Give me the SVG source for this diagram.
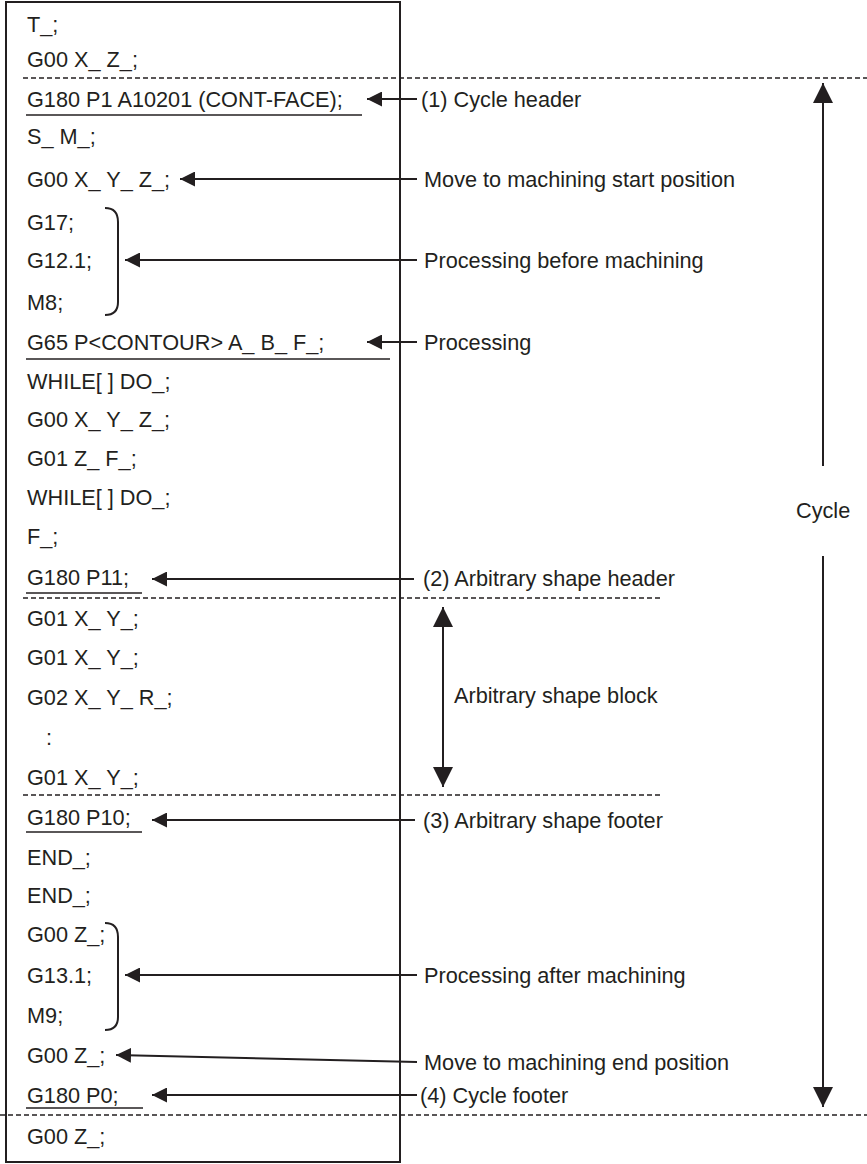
<svg xmlns="http://www.w3.org/2000/svg" width="867" height="1164" viewBox="0 0 867 1164">
<style>
text{font-family:"Liberation Sans",Arial,sans-serif;font-size:21.7px;fill:#231f20}
.ln{stroke:#231f20;stroke-width:2;fill:none}
.ul{stroke:#231f20;stroke-width:1.3;fill:none}
.dash{stroke:#231f20;stroke-width:1.5;stroke-dasharray:5 3;fill:none}
.ah{fill:#231f20}
</style>
<defs>
<marker id="ah" viewBox="0 0 15 15" refX="15" refY="7.5" markerWidth="15" markerHeight="15" markerUnits="userSpaceOnUse" orient="auto"><path d="M0,0 L15,7.5 L0,15 Z" class="ah"/></marker>
<marker id="ahv" viewBox="0 0 20 20" refX="20" refY="10" markerWidth="20" markerHeight="20" markerUnits="userSpaceOnUse" orient="auto"><path d="M0,0 L20,10 L0,20 Z" class="ah"/></marker>
</defs>
<g id="program">
<rect x="6" y="2" width="394" height="1160" class="ln"/>
<text x="27" y="32">T_;</text>
<text x="27" y="67">G00 X_ Z_;</text>
<text x="27" y="107">G180 P1 A10201 (CONT-FACE);</text>
<line x1="26" y1="115" x2="362" y2="115" class="ul"/>
<text x="27" y="144">S_ M_;</text>
<text x="27" y="187">G00 X_ Y_ Z_;</text>
<text x="27" y="230">G17;</text>
<text x="27" y="268">G12.1;</text>
<text x="27" y="310">M8;</text>
<path d="M105,208 Q118,208 118,222 L118,302 Q118,315 105,315" class="ln"/>
<text x="27" y="350">G65 P&lt;CONTOUR&gt; A_ B_ F_;</text>
<line x1="26" y1="359" x2="390" y2="359" class="ul"/>
<text x="27" y="389">WHILE[ ] DO_;</text>
<text x="27" y="427">G00 X_ Y_ Z_;</text>
<text x="27" y="466">G01 Z_ F_;</text>
<text x="27" y="505">WHILE[ ] DO_;</text>
<text x="27" y="544">F_;</text>
<text x="27" y="585">G180 P11;</text>
<line x1="26" y1="593" x2="142" y2="593" class="ul"/>
<text x="27" y="626">G01 X_ Y_;</text>
<text x="27" y="665">G01 X_ Y_;</text>
<text x="27" y="705">G02 X_ Y_ R_;</text>
<text x="46" y="745">:</text>
<text x="27" y="785">G01 X_ Y_;</text>
<text x="27" y="825">G180 P10;</text>
<line x1="26" y1="832" x2="142" y2="832" class="ul"/>
<text x="27" y="865">END_;</text>
<text x="27" y="903">END_;</text>
<text x="27" y="942">G00 Z_;</text>
<text x="27" y="983">G13.1;</text>
<text x="27" y="1023">M9;</text>
<path d="M105,923 Q118,923 118,937 L118,1017 Q118,1030 105,1030" class="ln"/>
<text x="27" y="1063">G00 Z_;</text>
<text x="27" y="1103">G180 P0;</text>
<line x1="26" y1="1108" x2="143" y2="1108" class="ul"/>
<text x="27" y="1144">G00 Z_;</text>
</g>
<g id="separators">
<line x1="23" y1="78" x2="867" y2="78" class="dash"/>
<line x1="23" y1="598" x2="660" y2="598" class="dash"/>
<line x1="23" y1="795" x2="660" y2="795" class="dash"/>
<line x1="0" y1="1115" x2="867" y2="1115" class="dash"/>
</g>
<g id="labels">
<text x="421" y="107">(1) Cycle header</text>
<text x="424" y="187">Move to machining start position</text>
<text x="424" y="268">Processing before machining</text>
<text x="424" y="350">Processing</text>
<text x="423" y="586">(2) Arbitrary shape header</text>
<text x="454" y="703">Arbitrary shape block</text>
<text x="423" y="828">(3) Arbitrary shape footer</text>
<text x="424" y="983">Processing after machining</text>
<text x="424" y="1070">Move to machining end position</text>
<text x="420" y="1103">(4) Cycle footer</text>
<text x="796" y="518">Cycle</text>
</g>
<g id="connectors">
<line x1="417" y1="99" x2="367" y2="99" class="ln" marker-end="url(#ah)"/>
<line x1="417" y1="179" x2="180" y2="179" class="ln" marker-end="url(#ah)"/>
<line x1="417" y1="260" x2="125" y2="260" class="ln" marker-end="url(#ah)"/>
<line x1="417" y1="342" x2="367" y2="342" class="ln" marker-end="url(#ah)"/>
<line x1="414" y1="579" x2="152" y2="579" class="ln" marker-end="url(#ah)"/>
<line x1="415" y1="820" x2="152" y2="820" class="ln" marker-end="url(#ah)"/>
<line x1="417" y1="975" x2="125" y2="975" class="ln" marker-end="url(#ah)"/>
<line x1="417" y1="1062" x2="116" y2="1055" class="ln" marker-end="url(#ah)"/>
<line x1="417" y1="1095" x2="152" y2="1095" class="ln" marker-end="url(#ah)"/>
<line x1="823" y1="466" x2="823" y2="83" class="ln" marker-end="url(#ahv)"/>
<line x1="823" y1="556" x2="823" y2="1107" class="ln" marker-end="url(#ahv)"/>
<line x1="443" y1="697" x2="443" y2="607" class="ln" marker-end="url(#ahv)"/>
<line x1="443" y1="697" x2="443" y2="787" class="ln" marker-end="url(#ahv)"/>
</g>
</svg>
